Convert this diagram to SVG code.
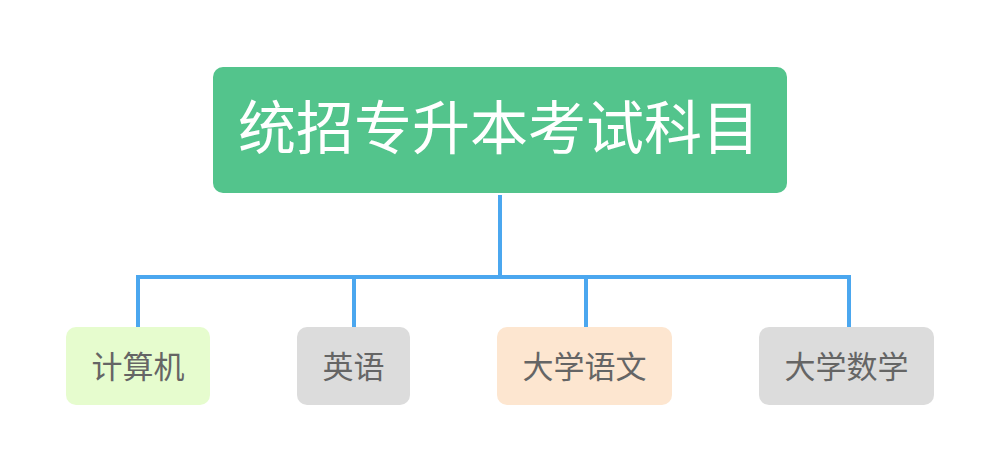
<svg xmlns="http://www.w3.org/2000/svg" width="1000" height="471" viewBox="0 0 1000 471">
<style>
.t{font-family:"Noto Sans CJK SC","Noto Sans",sans-serif;text-anchor:middle;}
.root{fill:#53c48c;}
.rt{fill:#ffffff;font-size:58px;}
.ct{fill:#656565;font-size:31px;}
.conn{fill:none;stroke:#4ba7ef;stroke-width:4;}
</style>
<rect width="1000" height="471" fill="#ffffff"/>
<g id="connectors">
<path class="conn" d="M500 195 V277 M138 327 V277 H849 V327 M354 277 V327 M586 277 V327"/>
</g>
<g id="root">
<rect class="root" x="213" y="67" width="574" height="126" rx="10"/>
<text class="t rt" x="499" y="149">统招专升本考试科目</text>
</g>
<g id="n1">
<rect x="66" y="327" width="144" height="78" rx="10" fill="#e6fcce"/>
<text class="t ct" x="138" y="378">计算机</text>
</g>
<g id="n2">
<rect x="297" y="327" width="113" height="78" rx="10" fill="#dcdcdc"/>
<text class="t ct" x="353.5" y="378">英语</text>
</g>
<g id="n3">
<rect x="497" y="327" width="175" height="78" rx="10" fill="#fde6d0"/>
<text class="t ct" x="584.5" y="378">大学语文</text>
</g>
<g id="n4">
<rect x="759" y="327" width="175" height="78" rx="10" fill="#dcdcdc"/>
<text class="t ct" x="846.5" y="378">大学数学</text>
</g>
</svg>
